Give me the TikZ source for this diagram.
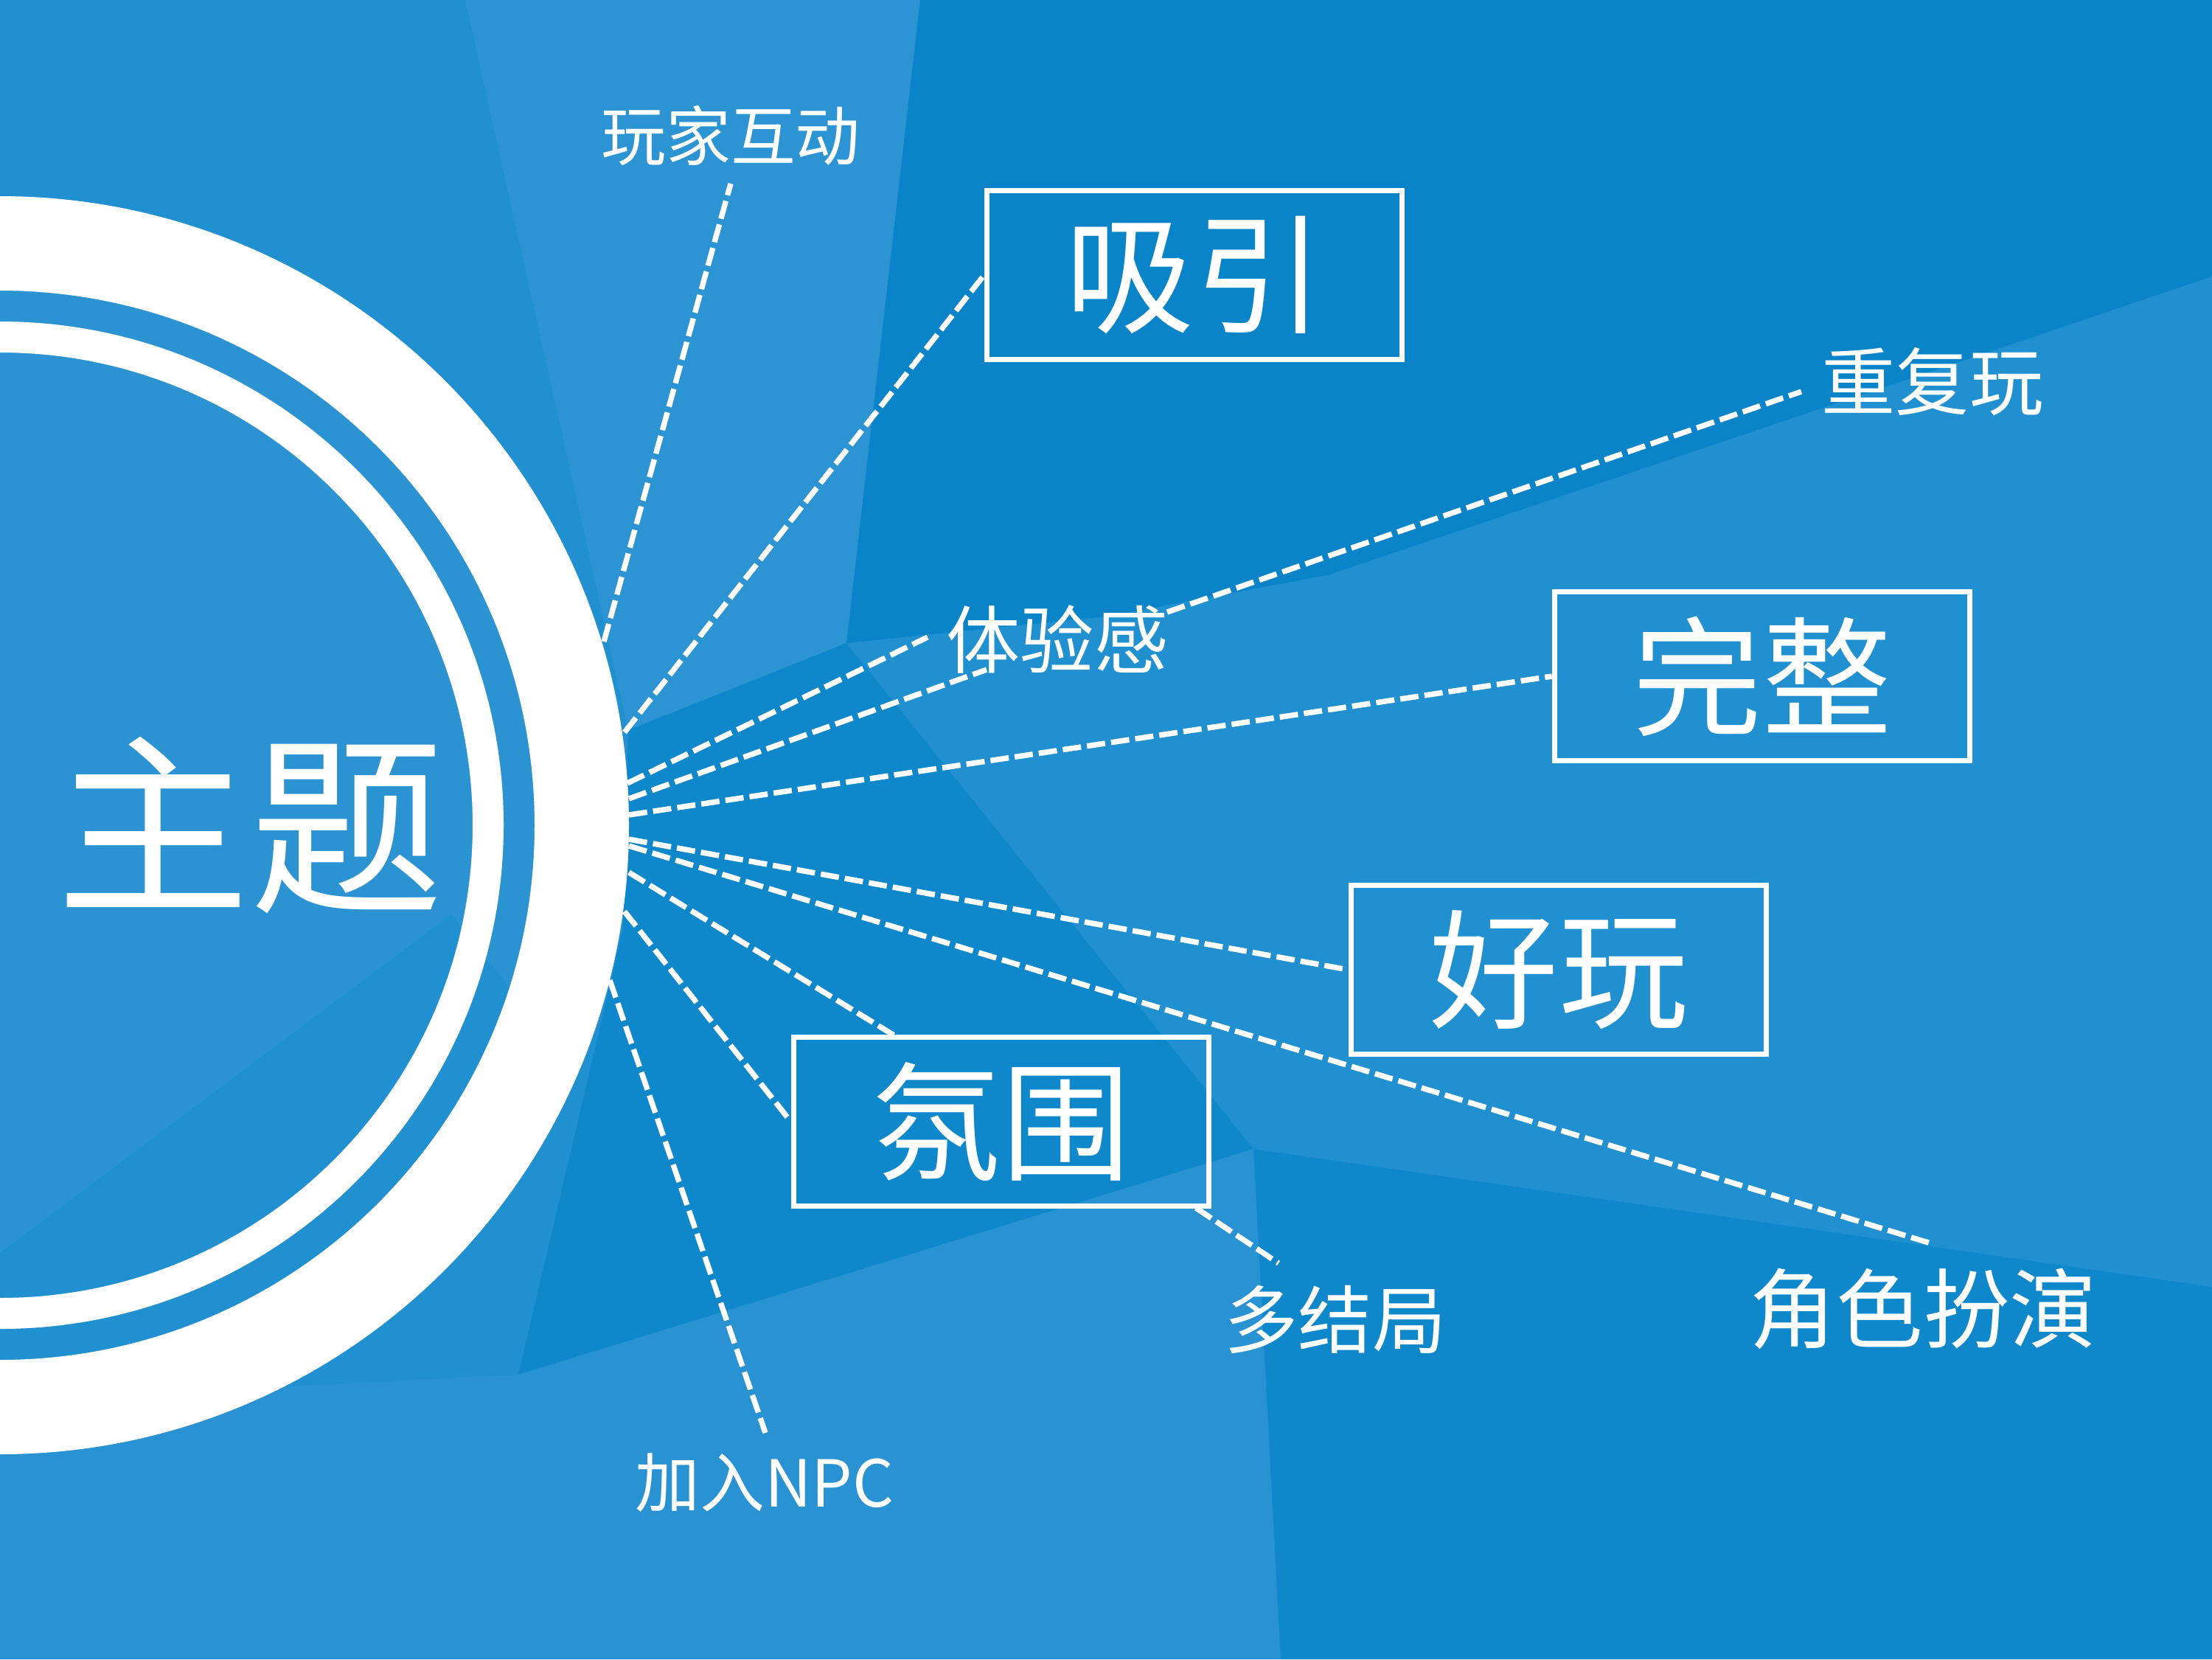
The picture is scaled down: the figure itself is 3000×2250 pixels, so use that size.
\documentclass[tikz,border=0pt]{standalone}
\usepackage{fontspec}
\newfontfamily\cjk{Noto Sans CJK SC}
\definecolor{bgbase}{HTML}{2190D0}
\definecolor{bgstripe}{HTML}{2C94D3}
\definecolor{bgdark}{HTML}{0A84C8}
\definecolor{bgmid}{HTML}{0F88CB}
\definecolor{bglight}{HTML}{2992D2}
\definecolor{bgring}{HTML}{2B93D2}
\begin{document}
\begin{tikzpicture}[x=0.01cm,y=-0.01cm,
  dl/.style={white, line width=2.1pt, dash pattern=on 7.1pt off 2.3pt},
  box/.style={draw=white, line width=2.1pt, minimum width=5.63cm, minimum height=2.29cm,
    inner sep=0pt, text=white, font=\cjk\fontsize{49.8pt}{50pt}\selectfont},
  lbls/.style={text=white, inner sep=0pt, font=\cjk\fontsize{25pt}{25pt}\selectfont},
  lblm/.style={text=white, inner sep=0pt, font=\cjk\fontsize{28.5pt}{28.5pt}\selectfont},
  lbll/.style={text=white, inner sep=0pt, font=\cjk\fontsize{33.5pt}{33.5pt}\selectfont},
  title/.style={text=white, inner sep=0pt, font=\cjk\fontsize{74.6pt}{75pt}\selectfont}
]
\useasboundingbox (0,0) rectangle (3000,2250);
\clip (0,0) rectangle (3000,2250);
% background facets
\fill[bgbase] (0,0) rectangle (3000,2250);
\fill[bgstripe] (631,0) -- (1248,0) -- (1148,872) -- (852,990) -- cycle;
\fill[bgdark] (1248,0) -- (3000,0) -- (3000,375) -- (1800,780) -- (1500,836) -- (1148,872) -- cycle;
\fill[bgmid] (852,990) -- (1148,872) -- (1700,1558) -- (703,1864) -- (845,1260) -- cycle;
\fill[bglight] (0,1900) -- (703,1864) -- (1700,1558) -- (1737,2250) -- (0,2250) -- cycle;
\fill[bgmid] (1700,1558) -- (3000,1745) -- (3000,2250) -- (1737,2250) -- cycle;
\fill[bgring] (0,1119) circle (725);
\begin{scope}
  \clip (0,1119) circle (725);
  \fill[bgbase] (0,1699) -- (612,1240) -- (900,1600) -- (0,2000) -- cycle;
\end{scope}
% rings
\draw[white, line width=36.4pt] (0,1119) circle (789);
\draw[white, line width=11.95pt] (0,1119) circle (662);
% nodes
\node[title] (zhuti) at (339,1119) {主题};
\node[box] (xiyin) at (1620,373) {吸引};
\node[box] (wanzheng) at (2390,917) {完整};
\node[box] (haowan) at (2114,1315) {好玩};
\node[box] (fenwei) at (1358,1521) {氛围};
\node[lbls] (hudong) at (991,184) {玩家互动};
\node[lblm] (chongfu) at (2621,517) {重复玩};
\node[lblm] (tiyan) at (1434,867) {体验感};
\node[lblm] (duo) at (1811,1789) {多结局};
\node[lbll] (jiaose) at (2608,1775) {角色扮演};
\node[lbls] (npc) at (1037,2011) {加入NPC};
% connector points
\coordinate (p1) at (819,870);
\coordinate (p2) at (847,993);
\coordinate (p3) at (851,1062);
\coordinate (p4) at (853,1083);
\coordinate (p5) at (853,1105);
\coordinate (p6) at (853,1138);
\coordinate (p7) at (853,1147);
\coordinate (p8) at (853,1183);
\coordinate (p9) at (847,1236);
\coordinate (p10) at (827,1329);
\coordinate (hudongE) at (991,249);
\coordinate (tiyanA) at (1258,864);
\coordinate (tiyanB) at (1338,908);
\coordinate (tiyanC) at (1583,830);
\coordinate (chongfuE) at (2443,531);
\coordinate (jiaoseE) at (2622,1687);
\coordinate (fenweiT) at (1216,1406);
\coordinate (fenweiC) at (1622,1638);
\coordinate (duoE) at (1734,1713);
\coordinate (npcE) at (1038,1943);
% connectors
\draw[dl] (p1) -- (hudongE);
\draw[dl] (p2) -- (xiyin.west);
\draw[dl] (p3) -- (tiyanA);
\draw[dl] (p4) -- (tiyanB);
\draw[dl] (tiyanC) -- (chongfuE);
\draw[dl] (p5) -- (wanzheng.west);
\draw[dl] (p6) -- (haowan.west);
\draw[dl] (p7) -- (jiaoseE);
\draw[dl] (p8) -- (fenweiT);
\draw[dl] (p9) -- (fenwei.west);
\draw[dl] (p10) -- (npcE);
\draw[dl] (fenweiC) -- (duoE);
\end{tikzpicture}
\end{document}
